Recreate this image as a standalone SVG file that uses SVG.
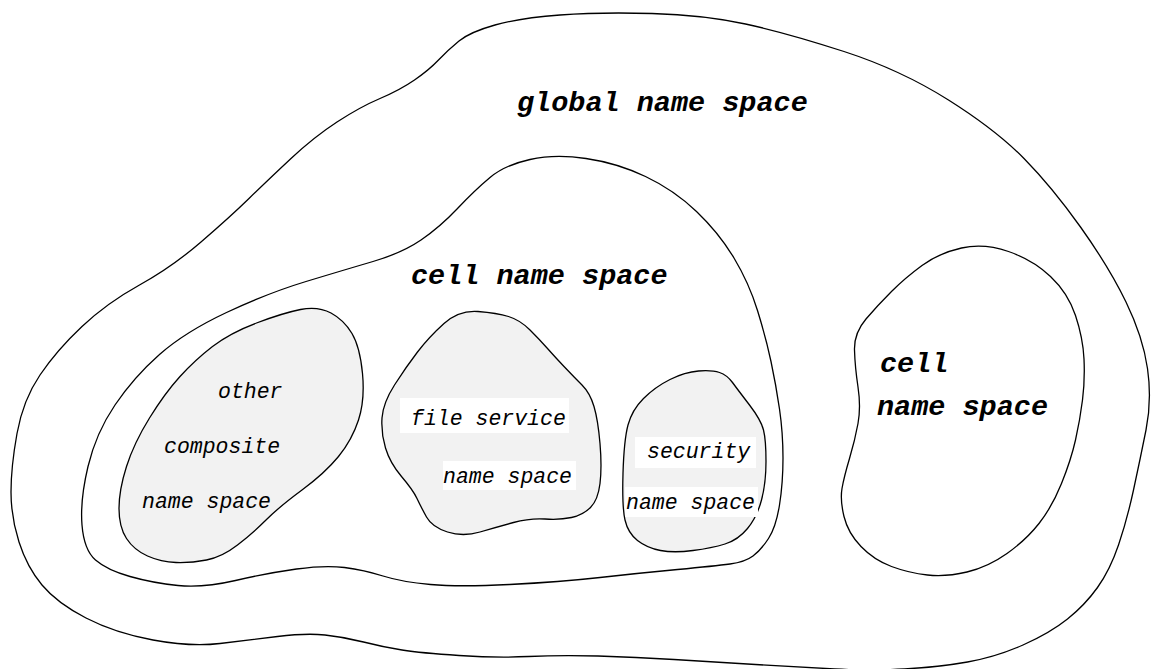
<svg xmlns="http://www.w3.org/2000/svg" width="1154" height="669" viewBox="0 0 1154 669">
  <style>
    .region { fill: #ffffff; stroke: #000000; stroke-width: 1.3; stroke-linejoin: round; }
    .sub { fill: #f2f2f2; stroke: #000000; stroke-width: 1.3; stroke-linejoin: round; }
    .big { font-family: "Liberation Mono", "Courier New", monospace; font-style: italic; font-weight: bold; font-size: 28.5px; fill: #000000; }
    .small { font-family: "Liberation Mono", "Courier New", monospace; font-style: italic; font-size: 21.5px; fill: #000000; }
    .pad { fill: #ffffff; stroke: none; }
  </style>
  <rect width="1154" height="669" fill="#ffffff"/>

  <!-- global name space -->
  <g id="global">
    <path class="region" d="M560,15 Q600,12 652,13.5 Q704,15 745.5,24 Q787,33 844,51.5 Q901,70 948.5,100 Q996,130 1024,158.5 Q1052,187 1080.5,227 Q1109,267 1126,302 Q1143,337 1147.5,368.5 Q1152,400 1146,430 Q1140,460 1133.5,490 Q1127,520 1118.5,545 Q1110,570 1097.5,587.5 Q1085,605 1067.5,619 Q1050,633 1023,645 Q996,657 967.5,662 Q939,667 904.5,669 Q870,671 834.5,669 Q799,667 755.5,664.5 Q712,662 674,659.5 Q636,657 598,656 Q560,655 528.5,656.5 Q497,658 459,655.5 Q421,653 402,650 Q383,647 363.5,642 Q344,637 325,635 Q306,633 277.5,636.5 Q249,640 220,643.5 Q191,647 153,640 Q115,633 86,618 Q57,603 42,585 Q27,567 19,542 Q11,517 11,492 Q11,467 17,433.5 Q23,400 40,375 Q57,350 82,326.5 Q107,303 139.5,285 Q172,267 201,242 Q230,217 249,198.5 Q268,180 291,158.5 Q314,137 337,122 Q360,107 380,98.5 Q400,90 414.5,80 Q429,70 438.5,60 Q448,50 459,41 Q470,32 495,25 Q520,18 560,15 Z"/>
    <text class="big" x="517" y="111">global name space</text>
  </g>

  <!-- cell name space (left, holding the sub-spaces) -->
  <g id="cell-main">
    <path class="region" d="M586,158.5 Q617,163 645.5,176.5 Q674,190 696.5,211.5 Q719,233 734,258 Q749,283 757.5,310.5 Q766,338 771,361.5 Q776,385 779.5,409 Q783,433 783,458 Q783,483 779.5,505 Q776,527 768.5,538.5 Q761,550 753,556 Q745,562 730,564 Q715,566 677.5,569.5 Q640,573 600,577.5 Q560,582 509.5,584.5 Q459,587 430.5,584.5 Q402,582 383,576 Q364,570 344.5,567.5 Q325,565 296.5,569 Q268,573 235.5,580.5 Q203,588 178,585.5 Q153,583 130,576.5 Q107,570 95.5,560 Q84,550 82,525 Q80,500 88,466.5 Q96,433 115,405 Q134,377 159.5,354.5 Q185,332 226.5,312.5 Q268,293 306,281.5 Q344,270 373,261.5 Q402,253 421,240 Q440,227 457.5,208.5 Q475,190 490,177.5 Q505,165 530,159.5 Q555,154 586,158.5 Z"/>
    <text class="big" x="411" y="284">cell name space</text>
  </g>

  <!-- other composite name space -->
  <g id="composite">
    <path class="sub" d="M331,313 Q344,320 352,333.5 Q360,347 362.5,373.5 Q365,400 358.5,420 Q352,440 338.5,456.5 Q325,473 302,490 Q279,507 266,520 Q253,533 237.5,545 Q222,557 206.5,560 Q191,563 176,562.5 Q161,562 147.5,556 Q134,550 126.5,538.5 Q119,527 119,508.5 Q119,490 126.5,466.5 Q134,443 149.5,418 Q165,393 180,376.5 Q195,360 212.5,346.5 Q230,333 256.5,323 Q283,313 300.5,309.5 Q318,306 331,313 Z"/>
    <text class="small" x="218" y="398">other</text>
    <text class="small" x="164" y="453">composite</text>
    <text class="small" x="142" y="508">name space</text>
  </g>

  <!-- file service name space -->
  <g id="file-service">
    <path class="sub" d="M478,311.5 Q497,313 508.5,316.5 Q520,320 530,330 Q540,340 547.5,348.5 Q555,357 564.5,367 Q574,377 582,385 Q590,393 594,406.5 Q598,420 600,443.5 Q602,467 600,483.5 Q598,500 590.5,507.5 Q583,515 571.5,517.5 Q560,520 545,519 Q530,518 513.5,522.5 Q497,527 480,532 Q463,537 447.5,532 Q432,527 426.5,517 Q421,507 417,498.5 Q413,490 401.5,476.5 Q390,463 385.5,448 Q381,433 382,418 Q383,403 394.5,385 Q406,367 417.5,352 Q429,337 444,323.5 Q459,310 478,311.5 Z"/>
    <rect class="pad" x="400" y="398" width="169" height="35"/>
    <text class="small" x="411" y="425">file service</text>
    <rect class="pad" x="443" y="461" width="133" height="29"/>
    <text class="small" x="443" y="483">name space</text>
  </g>

  <!-- security name space -->
  <g id="security">
    <path class="sub" d="M719.5,372.5 Q727,375 732.5,382.5 Q738,390 749.5,405 Q761,420 763.5,430 Q766,440 766,461.5 Q766,483 761.5,500 Q757,517 747.5,528.5 Q738,540 725,544 Q712,548 693,550.5 Q674,553 660.5,550.5 Q647,548 637.5,540.5 Q628,533 625,520 Q622,507 623,473.5 Q624,440 628,425 Q632,410 643.5,398.5 Q655,387 670,379.5 Q685,372 698.5,371 Q712,370 719.5,372.5 Z"/>
    <rect class="pad" x="635" y="437" width="121" height="31"/>
    <text class="small" x="647" y="458">security</text>
    <rect class="pad" x="625" y="487" width="133" height="30"/>
    <text class="small" x="626" y="509">name space</text>
  </g>

  <!-- second cell name space (right) -->
  <g id="cell-other">
    <path class="region" d="M1008.5,251.5 Q1033,260 1050.5,276.5 Q1068,293 1075.5,315.5 Q1083,338 1084,359 Q1085,380 1082.5,400 Q1080,420 1075.5,440 Q1071,460 1061.5,483.5 Q1052,507 1039,523.5 Q1026,540 1007,553.5 Q988,567 967,572 Q946,577 927.5,575 Q909,573 891.5,566.5 Q874,560 861,546.5 Q848,533 844,516.5 Q840,500 842,488.5 Q844,477 849.5,458.5 Q855,440 858,423.5 Q861,407 858,387 Q855,367 854.5,350 Q854,333 866,319 Q878,305 891.5,291.5 Q905,278 922,265.5 Q939,253 961.5,248 Q984,243 1008.5,251.5 Z"/>
    <text class="big" x="880" y="372">cell</text>
    <text class="big" x="877" y="415">name space</text>
  </g>
</svg>
